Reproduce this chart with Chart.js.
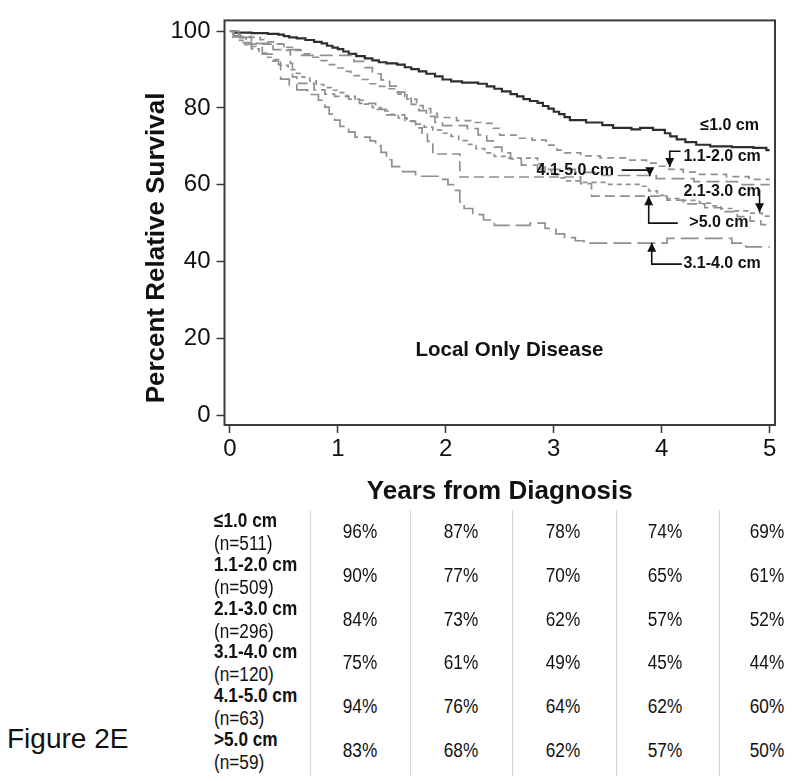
<!DOCTYPE html>
<html>
<head>
<meta charset="utf-8">
<script src="https://cdn.jsdelivr.net/npm/chart.js@4/dist/chart.umd.min.js"></script>
<style>
html,body{margin:0;padding:0;background:#fff;}
#wrap{position:relative;width:792px;height:781px;overflow:hidden;font-family:"Liberation Sans",Arial,Helvetica,sans-serif;color:#111;}
#chartBox{position:absolute;left:0;top:0;width:792px;height:510px;}
.cell{position:absolute;white-space:nowrap;line-height:22px;font-size:20px;transform:scaleX(0.86);transform-origin:left center;}
.lab{font-weight:bold;}
.val{text-align:center;width:80px;transform-origin:center center;}
.sep{position:absolute;width:1px;background:#d4d4d4;}
#fig{position:absolute;left:7px;top:722px;font-size:28px;line-height:34px;}
</style>
</head>
<body>
<div id="wrap">
  <div id="chartBox"><canvas id="c" width="792" height="510"></canvas></div>
  <div id="fig">Figure 2E</div>
</div>
<script>
// ---------------- DATA ----------------
const seriesNames = ['≤1.0 cm', '1.1-2.0 cm', '2.1-3.0 cm', '3.1-4.0 cm', '4.1-5.0 cm', '>5.0 cm'];
const seriesN = ['(n=511)', '(n=509)', '(n=296)', '(n=120)', '(n=63)', '(n=59)'];

// years from diagnosis / percent relative survival for each curve
const t_le1 = [0,0.05,0.2,0.35,0.45,0.5,0.55,0.62,0.7,0.78,0.85,0.9,0.95,1.0,1.05,1.1,1.17,1.25,1.32,1.38,1.45,1.55,1.62,1.68,1.75,1.82,1.9,1.97,2.05,2.15,2.3,2.38,2.45,2.52,2.6,2.66,2.72,2.78,2.85,2.9,2.95,3.0,3.05,3.1,3.15,3.3,3.45,3.55,3.72,3.8,3.92,4.03,4.08,4.14,4.22,4.32,4.45,4.65,4.85,4.97,5.0];
const s_le1 = [100,99.6,99.5,99.3,99.1,98.7,98.4,98.1,97.7,97.2,96.8,96.2,95.7,95.3,94.7,94.1,93.5,92.9,92.4,91.9,91.6,91.3,90.6,90.1,89.5,88.9,88.2,87.4,86.9,86.6,86.3,85.6,85.0,84.3,83.6,83.0,82.3,81.8,81.3,80.5,79.8,79.0,78.4,77.6,76.8,76.2,75.5,74.8,74.4,74.8,74.3,73.4,72.6,71.8,71.1,70.4,70.0,69.8,69.6,69.0,69.0];

const t_11 = [0,0.04,0.1,0.2,0.28,0.35,0.42,0.5,0.58,0.66,0.74,0.82,0.9,0.97,1.05,1.12,1.2,1.28,1.36,1.45,1.56,1.64,1.73,1.79,1.86,1.92,2.1,2.25,2.35,2.44,2.5,2.66,2.8,2.93,3.03,3.1,3.25,3.43,3.68,3.86,3.98,4.07,4.2,4.35,4.6,4.81,5.0];
const s_11 = [100,99.2,98.6,98.4,97.8,97.2,96.6,95.8,95.0,94.1,93.2,92.3,91.3,90.4,89.5,88.4,87.4,86.3,85.6,85.0,83.6,82.3,80.6,79.8,78.6,77.5,76.7,76.2,76.0,74.7,72.9,72.1,71.6,70.3,69.0,68.3,67.5,67.0,66.4,65.6,64.8,64.0,63.3,62.7,62.1,61.4,61.4];

const t_21 = [0,0.03,0.08,0.14,0.2,0.27,0.34,0.4,0.47,0.54,0.6,0.67,0.74,0.8,0.87,0.94,1.0,1.08,1.16,1.24,1.32,1.4,1.48,1.56,1.64,1.72,1.8,1.88,1.96,2.05,2.12,2.2,2.28,2.36,2.45,2.55,2.85,2.92,2.98,3.05,3.12,3.25,3.5,3.8,3.88,3.96,4.05,4.2,4.35,4.45,4.55,4.68,4.8,4.93,5.0];
const s_21 = [100,98.8,97.6,96.5,95.4,94.3,93.2,92.2,91.1,90.0,89.0,88.0,87.0,86.1,85.3,84.6,84.0,83.0,82.0,81.0,80.1,79.2,78.3,77.4,76.6,75.8,75.0,74.2,73.4,72.6,71.5,70.5,69.4,68.3,67.4,66.9,65.4,63.8,62.6,61.8,61.0,60.6,60.1,59.6,58.4,57.2,56.4,55.9,55.2,54.5,53.8,53.2,52.6,51.8,51.8];

const t_31 = [0,0.04,0.1,0.2,0.3,0.4,0.45,0.47,0.55,0.62,0.72,0.82,0.88,0.92,0.97,1.02,1.1,1.16,1.3,1.35,1.4,1.45,1.5,1.6,1.72,1.95,2.02,2.08,2.13,2.17,2.25,2.35,2.45,2.78,2.92,3.02,3.1,3.2,3.28,4.05,4.65,4.78,5.0];
const s_31 = [100,98.5,97,96,94,92.6,91.3,87.5,86,84.7,83.5,82,80.2,78.4,76.8,75.2,73.7,72.4,71.4,70.2,68.4,66.5,64.7,63.4,62.2,61.4,60.0,58.5,55.5,53.8,52.2,50.8,49.4,50.0,48.6,47.2,46.2,45.4,44.8,46.0,44.8,43.8,43.8];

const t_41 = [0,0.08,0.2,0.4,0.65,1.15,1.25,1.32,1.4,1.48,1.55,1.62,1.68,1.75,1.82,1.9,1.97,2.2,2.3,2.38,2.45,2.52,2.6,2.7,2.85,3.2,3.45,3.95,4.3,4.7,5.0];
const s_41 = [100,98.4,96.8,95.2,93.7,92.1,90.5,88.9,87.3,85.7,84.1,82.5,80.9,79.3,77.8,76.2,75.4,74.6,73.0,71.4,69.8,68.3,66.7,65.1,64.0,63.2,62.4,61.6,60.8,60.0,60.0];

const t_gt5 = [0,0.03,0.15,0.5,0.56,0.58,0.62,0.78,0.88,0.97,1.1,1.2,1.35,1.45,1.62,1.72,1.78,1.83,1.88,2.13,3.25,3.35,4.05,4.2,4.4,4.55,4.7,4.82,4.92,5.0];
const s_gt5 = [100,98.3,96.6,95,91.6,88.1,86.4,84.7,83.6,83.0,82.3,81.2,79.6,78.2,76.5,74.8,73.1,71.3,68.0,62.0,60.3,57.0,56.0,55.0,54.0,53.0,51.7,50.5,49.6,49.6];

const xTickValues = [0, 1, 2, 3, 4, 5];
const yTickValues = [0, 20, 40, 60, 80, 100];

// table below the chart: % survival at years 1..5
const tableValues = [
  [96, 87, 78, 74, 69],
  [90, 77, 70, 65, 61],
  [84, 73, 62, 57, 52],
  [75, 61, 49, 45, 44],
  [94, 76, 64, 62, 60],
  [83, 68, 62, 57, 50]
];

// ---------------- STYLES ----------------
const curveTimes = [t_le1, t_11, t_21, t_31, t_41, t_gt5];
const curveVals = [s_le1, s_11, s_21, s_31, s_41, s_gt5];
const curveStyle = [
  {color: '#2e2e2e', width: 2.2, dash: []},
  {color: '#8f8f8f', width: 1.7, dash: [7, 5]},
  {color: '#8f8f8f', width: 1.7, dash: [5, 4]},
  {color: '#8f8f8f', width: 1.7, dash: [18, 6]},
  {color: '#8f8f8f', width: 1.7, dash: [13, 6]},
  {color: '#8f8f8f', width: 1.7, dash: [10, 5]}
];

// annotation layout (in data units)
const annLabels = [
  {i: 0, t: 4.63, s: 75.4},
  {i: 1, t: 4.56, s: 67.4},
  {i: 4, t: 3.20, s: 63.8},
  {i: 2, t: 4.56, s: 58.2},
  {i: 5, t: 4.53, s: 50.0},
  {i: 3, t: 4.56, s: 39.5}
];
const annArrows = [
  [[4.175, 68.7], [4.075, 68.7], [4.075, 64.6]],
  [[3.63, 63.8], [3.89, 63.8], [3.89, 62.2]],
  [[4.907, 58.7], [4.907, 52.8]],
  [[4.149, 50.0], [3.88, 50.0], [3.88, 57.0]],
  [[4.186, 39.3], [3.908, 39.3], [3.908, 44.9]]
];

const datasets = curveTimes.map((ts, k) => ({
  label: seriesNames[k],
  data: ts.map((x, j) => ({x: x, y: curveVals[k][j]})),
  borderColor: curveStyle[k].color,
  borderWidth: curveStyle[k].width,
  borderDash: curveStyle[k].dash,
  stepped: 'before',
  pointRadius: 0,
  fill: false
})).reverse();

const FONT = '"Liberation Sans", Arial, Helvetica, sans-serif';

const decor = {
  id: 'decor',
  afterDatasetsDraw(chart) {
    const {ctx, chartArea: a, scales: {x, y}} = chart;
    ctx.save();
    // frame
    ctx.strokeStyle = '#3a3a3a';
    ctx.lineWidth = 2;
    ctx.setLineDash([]);
    ctx.strokeRect(a.left, a.top, a.right - a.left, a.bottom - a.top);
    // inside text
    ctx.fillStyle = '#111';
    ctx.font = 'bold 20.5px ' + FONT;
    ctx.textAlign = 'center';
    ctx.textBaseline = 'middle';
    ctx.fillText('Local Only Disease', x.getPixelForValue(2.59), y.getPixelForValue(16.8));
    // curve labels
    ctx.font = 'bold 16px ' + FONT;
    annLabels.forEach(l => {
      ctx.fillText(seriesNames[l.i], x.getPixelForValue(l.t), y.getPixelForValue(l.s));
    });
    // arrows
    ctx.strokeStyle = '#111';
    ctx.lineWidth = 1.6;
    annArrows.forEach(pts => {
      const p = pts.map(q => [x.getPixelForValue(q[0]), y.getPixelForValue(q[1])]);
      ctx.beginPath();
      ctx.moveTo(p[0][0], p[0][1]);
      for (let k = 1; k < p.length; k++) ctx.lineTo(p[k][0], p[k][1]);
      ctx.stroke();
      const tip = p[p.length - 1], prev = p[p.length - 2];
      const ang = Math.atan2(tip[1] - prev[1], tip[0] - prev[0]);
      const L = 9, W = 4.5;
      ctx.beginPath();
      ctx.moveTo(tip[0], tip[1]);
      ctx.lineTo(tip[0] - L * Math.cos(ang) + W * Math.sin(ang), tip[1] - L * Math.sin(ang) - W * Math.cos(ang));
      ctx.lineTo(tip[0] - L * Math.cos(ang) - W * Math.sin(ang), tip[1] - L * Math.sin(ang) + W * Math.cos(ang));
      ctx.closePath();
      ctx.fill();
    });
    // y axis title
    ctx.save();
    ctx.translate(157, 248);
    ctx.rotate(-Math.PI / 2);
    ctx.font = 'bold 26px ' + FONT;
    ctx.fillText('Percent Relative Survival', 0, 0);
    ctx.restore();
    ctx.restore();
  }
};

new Chart(document.getElementById('c'), {
  type: 'line',
  data: {datasets: datasets},
  options: {
    responsive: false,
    animation: false,
    devicePixelRatio: 1,
    layout: {padding: {left: 0, right: 17, top: 14, bottom: 0}},
    plugins: {legend: {display: false}, tooltip: {enabled: false}},
    scales: {
      x: {
        type: 'linear',
        min: -0.05,
        max: 5.05,
        afterBuildTicks: s => { s.ticks = xTickValues.map(v => ({value: v})); },
        afterFit: s => { s.height = 85; },
        grid: {display: true, drawOnChartArea: false, drawTicks: true, tickLength: 8, tickColor: '#3a3a3a', tickWidth: 1.5},
        border: {display: false},
        ticks: {color: '#111', font: {family: FONT, size: 24}, padding: 2, maxRotation: 0},
        title: {display: true, text: 'Years from Diagnosis', color: '#111', font: {family: FONT, size: 26, weight: 'bold'}, padding: {top: 0, bottom: 3}}
      },
      y: {
        type: 'linear',
        min: -2.6,
        max: 102.8,
        afterBuildTicks: s => { s.ticks = yTickValues.map(v => ({value: v})); },
        afterFit: s => { s.width = 224.5; },
        grid: {display: true, drawOnChartArea: false, drawTicks: true, tickLength: 8, tickColor: '#3a3a3a', tickWidth: 1.5},
        border: {display: false},
        ticks: {color: '#111', font: {family: FONT, size: 24}, padding: 6}
      }
    }
  },
  plugins: [decor]
});

// ---------------- TABLE ----------------
const wrap = document.getElementById('wrap');
const rowTop = 509, rowPitch = 43.8;
const colCenters = [360, 461, 563, 665, 767];
const sepX = [310, 410, 512, 616, 719];
sepX.forEach(sx => {
  const d = document.createElement('div');
  d.className = 'sep';
  d.style.left = sx + 'px';
  d.style.top = '510px';
  d.style.height = '266px';
  wrap.appendChild(d);
});
seriesNames.forEach((name, i) => {
  const top = rowTop + i * rowPitch;
  const a = document.createElement('div');
  a.className = 'cell lab';
  a.style.left = '214px';
  a.style.top = top + 'px';
  a.textContent = name;
  wrap.appendChild(a);
  const b = document.createElement('div');
  b.className = 'cell';
  b.style.left = '214px';
  b.style.top = (top + 23) + 'px';
  b.textContent = seriesN[i];
  wrap.appendChild(b);
  tableValues[i].forEach((v, j) => {
    const c = document.createElement('div');
    c.className = 'cell val';
    c.style.left = (colCenters[j] - 40) + 'px';
    c.style.top = (top + 11) + 'px';
    c.textContent = v + '%';
    wrap.appendChild(c);
  });
});
</script>
</body>
</html>
